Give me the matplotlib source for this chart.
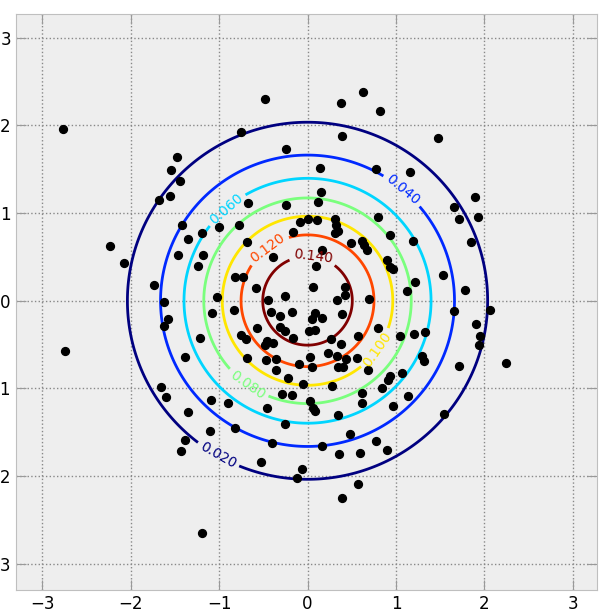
import numpy as np
import matplotlib.pyplot as plt

# scattered sample points
pts_x = [-2.77, -0.48, 0.375, 0.63, 0.82, -0.75, 0.39, -0.24, 1.48,
         -1.48, -1.544, -1.44, -1.555, -1.68, -1.416, -1.19, -1.35, -2.23, -1.468, -1.18, -2.076, -1.235, -1.736, -1.62,
         0.14, 0.775, 0.153, -0.67, -0.243, 0.12, 0.80, -1.005, -0.77, -0.09, 0.01, 0.107, 0.31, 0.32, 0.35, 0.31,
         -0.167, 0.937, -0.684, 0.49, 0.62, 0.64, 0.676, -0.39, 0.093, 0.167, 0.896, 0.933, 0.97, -0.82, -0.733,
         -0.583, -1.02, 0.06, 0.42, -0.443, -0.255, 0.33, 0.424, 0.70, 1.12,
         1.16, 1.895, 1.654, 1.714, 1.925, 1.197, 1.846, 1.216, 1.53, 1.785,
         -1.575, -1.62, -2.74, -1.216, -1.38, -1.657, -1.604, -1.35, -1.38, -1.43,
         1.657, 2.065, 1.20, 1.33, 1.90, 1.945, 1.94, 1.30, 1.32, 1.71, 2.25, 1.54,
         -0.526, -0.06, -0.12, 0.575, 0.387, -1.197,
         -0.83, -1.077, -0.41, -0.31, -0.17, 0.085, 0.16, 0.055, 0.387, -0.575, -0.31, -0.25, 0.017, 0.085, -0.16,
         -0.75, -0.70, -0.46, -0.48, -0.39, 0.27, 0.38, 0.575, 0.80, 1.046, -0.69, -0.466, -0.36, -0.10, 0.03,
         0.047, 0.23, 0.33, 0.435, 0.35, 0.405, 0.556, 0.68, 0.933, 0.907, 1.065, -0.356, -0.217, -0.047, 0.274,
         -0.18, -0.29, 0.03, 0.066, 0.085, 0.613, 0.613, 0.84, 1.14, 0.97, -1.09, -0.896, -0.46, -0.255, 0.35,
         -1.10, -0.82, -0.405, 0.16, 0.48, 0.78, 0.896, 0.36, 0.594]
pts_y = [1.96, 2.30, 2.26, 2.385, 2.17, 1.925, 1.875, 1.73, 1.86,
         1.64, 1.49, 1.37, 1.195, 1.15, 0.864, 0.777, 0.70, 0.63, 0.527, 0.52, 0.427, 0.40, 0.18, -0.014,
         1.52, 1.50, 1.237, 1.12, 1.09, 1.127, 0.95, 0.846, 0.864, 0.90, 0.93, 0.926, 0.933, 0.864, 0.80, 0.77,
         0.78, 0.75, 0.675, 0.656, 0.686, 0.636, 0.58, 0.504, 0.40, 0.58, 0.466, 0.382, 0.36, 0.276, 0.276,
         0.143, 0.04, 0.154, 0.162, 0.01, 0.06, 0.01, 0.066, 0.02, 0.11,
         1.465, 1.18, 1.07, 0.93, 0.95, 0.68, 0.675, 0.21, 0.29, 0.128,
         -0.207, -0.283, -0.568, -0.43, -0.64, -0.98, -1.10, -1.27, -1.583, -1.71,
         -0.116, -0.108, -0.38, -0.36, -0.27, -0.405, -0.50, -0.625, -0.69, -0.74, -0.71, -1.29,
         -1.845, -1.92, -2.02, -2.09, -2.255, -2.65,
         -0.10, -0.14, -0.13, -0.17, -0.13, -0.14, -0.196, -0.207, -0.146, -0.31, -0.30, -0.35, -0.35, -0.33, -0.42,
         -0.385, -0.44, -0.46, -0.50, -0.48, -0.44, -0.49, -0.40, -0.31, -0.405, -0.65, -0.68, -0.66, -0.72, -0.64,
         -0.75, -0.595, -0.63, -0.67, -0.755, -0.75, -0.65, -0.79, -0.86, -0.906, -0.82, -0.785, -0.88, -0.955, -0.975,
         -1.07, -1.06, -1.146, -1.22, -1.26, -1.05, -1.165, -0.994, -1.09, -1.20, -1.135, -1.165, -1.22, -1.41, -1.30,
         -1.49, -1.45, -1.62, -1.66, -1.525, -1.60, -1.70, -1.75, -1.735]

levels = [0.02, 0.04, 0.06, 0.08, 0.10, 0.12, 0.14]
label_pos = [(-1.0, -1.74), (1.08, 1.27), (-0.92, 1.05), (-0.68, -0.96),
             (0.8, -0.56), (-0.45, 0.6), (0.06, 0.5)]

g = np.linspace(-3.3, 3.3, 300)
X, Y = np.meshgrid(g, g)
Z = np.exp(-(X**2 + Y**2) / 2) / (2 * np.pi)

fig = plt.figure(figsize=(6.13, 6.12), dpi=100)
ax = fig.add_axes([0.0256, 0.0359, 0.9478, 0.941])
ax.set_facecolor('#eeeeee')

cs = ax.contour(X, Y, Z, levels=levels, cmap='jet', linewidths=2)
ax.clabel(cs, levels=levels, fmt='%.3f', fontsize=10, manual=label_pos, inline_spacing=4)
ax.scatter(pts_x, pts_y, s=32, c='black', zorder=3)

ax.set_xlim(-3.3, 3.27)
ax.set_ylim(-3.3, 3.27)
ax.set_xticks(range(-3, 4))
ax.set_yticks(range(-3, 4))
ax.grid(True, linestyle=':', color='#888888', linewidth=1)
ax.set_axisbelow(True)
ax.tick_params(direction='in', top=True, right=True, length=7, color='#999999', labelsize=12)
for s in ax.spines.values():
    s.set_color('#bfbfbf')

fig.savefig('out.png', dpi=100)
